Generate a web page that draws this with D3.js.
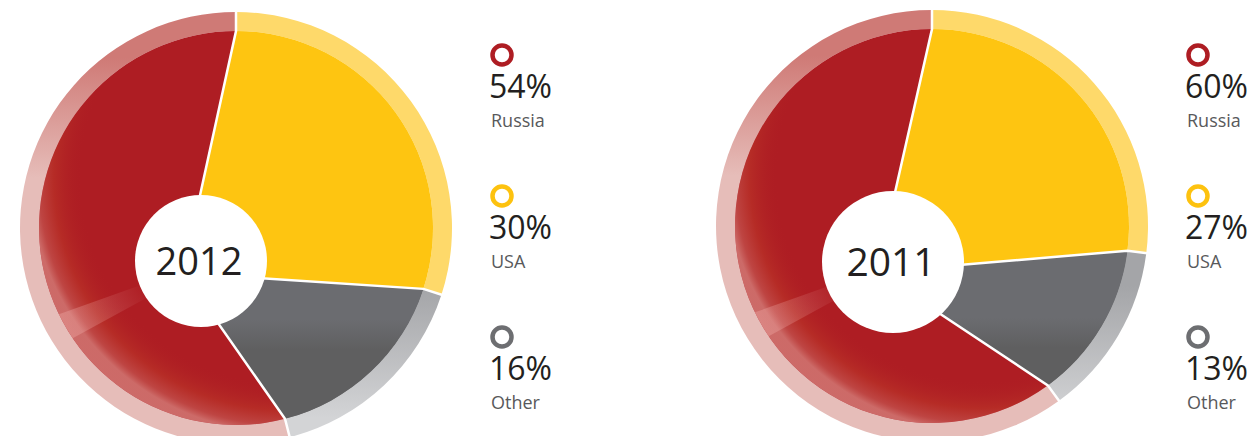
<!DOCTYPE html>
<html>
<head>
  <meta charset="utf-8" />
  <title>Russia / USA / Other share</title>
  <script src="https://d3js.org/d3.v7.min.js"></script>
  <style>
    body { margin: 0; background: #fff; }
    svg { display: block; }
    .year { font-family: "Open Sans", sans-serif; fill: #231f20; }
    .pct { font-family: "Open Sans", sans-serif; font-size: 32px; fill: #231f20; }
    .lbl { font-family: "Open Sans", sans-serif; font-size: 18px; fill: #58595b; }
  </style>
</head>
<body>
  <script>
    // - - - - - DATA - - - - - //
    var years = ["2012", "2011"];
    var countries = ["Russia", "USA", "Other"];
    var share2012 = [54, 30, 16];
    var share2011 = [60, 27, 13];

    // - - - - - LAYOUT - - - - - //
    var width = 1258, height = 436;
    var rPie = 197, rRing = 216;

    // pie centre, hole and the point the slice edges meet at (the pie is drawn a bit "tilted")
    var layout = [
      {cx: 236, cy: 228, hole: [-35, 33, 66], apex: [-53, 45], fs: 38},
      {cx: 932, cy: 226, hole: [-39, 36, 71], apex: [-55, 46], fs: 39}
    ];

    var fill = {Russia: "#ae1d23", USA: "#fec511", Other: "#6b6c70"};
    var ringFill = {Russia: "url(#ringRed)", USA: "#fed96a", Other: "url(#ringGray)"};
    var legendColor = {Russia: "#ae1d23", USA: "#fdc20f", Other: "#6d6e71"};

    var svg = d3.select("body").append("svg")
        .attr("width", width)
        .attr("height", height);

    // - - - - - GRADIENTS - - - - - //
    var defs = svg.append("defs");

    function linear(id, y1, y2, stops) {
      var g = defs.append("linearGradient").attr("id", id)
          .attr("gradientUnits", "userSpaceOnUse")
          .attr("x1", 0).attr("x2", 0).attr("y1", y1).attr("y2", y2);
      stops.forEach(function(s) {
        g.append("stop").attr("offset", s[0]).attr("stop-color", s[1]).attr("stop-opacity", s[2] == null ? 1 : s[2]);
      });
    }
    function radial(id, cx, cy, r, stops) {
      var g = defs.append("radialGradient").attr("id", id)
          .attr("gradientUnits", "userSpaceOnUse")
          .attr("cx", cx).attr("cy", cy).attr("r", r);
      stops.forEach(function(s) {
        g.append("stop").attr("offset", s[0]).attr("stop-color", s[1]).attr("stop-opacity", s[2]);
      });
    }

    linear("ringRed", -170, -50, [[0, "#cf7a76"], [1, "#e6bdb9"]]);
    linear("ringGray", 60, 190, [[0, "#a4a5a8"], [1, "#d3d4d6"]]);
    linear("grayShade", 92, 122, [[0, "#6b6c70"], [1, "#5f5f60"]]);
    radial("redShade", 50, -50, 255, [
      [0.80, "#ae1d23", 0],
      [0.91, "#bb3528", 0.6],
      [0.97, "#c55650", 0.7],
      [1, "#d27874", 0.85]
    ]);
    radial("stripe", 0, 0, rPie, [[0.55, "#eeaaa6", 0], [1, "#eeaaa6", 0.4]]);

    // - - - - - PIES - - - - - //
    var ring = d3.arc().innerRadius(rPie).outerRadius(rRing);

    function pt(a, r) { return [r * Math.sin(a), -r * Math.cos(a)]; }

    // slice drawn from the off-centre apex out to the pie circle
    function wedge(a0, a1, apex, r) {
      var p = d3.path(), s = pt(a0, r);
      p.moveTo(apex[0], apex[1]);
      p.lineTo(s[0], s[1]);
      p.arc(0, 0, r, a0 - Math.PI / 2, a1 - Math.PI / 2, false);
      p.closePath();
      return p.toString();
    }

    [share2012, share2011].forEach(function(values, i) {
      var L = layout[i];
      var total = d3.sum(values);
      var start = -values[0] / total * 2 * Math.PI;   // Russia ends at 12 o'clock
      var pie = d3.pie().sort(null).value(function(d) { return d; })
          .startAngle(start).endAngle(start + 2 * Math.PI);
      var arcs = pie(values);
      arcs.forEach(function(d, k) { d.name = countries[k]; });

      var g = svg.append("g").attr("transform", "translate(" + L.cx + "," + L.cy + ")");

      g.selectAll(".ring").data(arcs).enter().append("path")
          .attr("class", "ring")
          .attr("d", ring)
          .attr("fill", function(d) { return ringFill[d.name]; });

      g.selectAll(".slice").data(arcs).enter().append("path")
          .attr("class", "slice")
          .attr("d", function(d) { return wedge(d.startAngle, d.endAngle, L.apex, rPie); })
          .attr("fill", function(d) { return fill[d.name]; });

      var ru = arcs[0], ot = arcs[2];
      // 3d-ish shading
      g.append("path")
          .attr("d", wedge(ru.startAngle, ru.endAngle, L.apex, rPie))
          .attr("fill", "url(#redShade)");
      g.append("path")
          .attr("d", wedge(ot.startAngle, ot.endAngle, L.apex, rPie))
          .attr("fill", "url(#grayShade)");
      var hl0 = 236 / 180 * Math.PI, hl1 = 244 / 180 * Math.PI;
      g.append("path")
          .attr("d", wedge(hl0, hl1, [L.apex[0] + 42, L.apex[1] - 18], rPie))
          .attr("fill", "url(#stripe)");

      // white separators
      g.selectAll(".sep").data(arcs).enter().append("path")
          .attr("class", "sep")
          .attr("d", function(d) {
            return d3.line()([L.apex, pt(d.startAngle, rPie), pt(d.startAngle, rRing + 1)]);
          })
          .attr("fill", "none")
          .attr("stroke", "#fff")
          .attr("stroke-width", 2.5);

      // hole + year
      g.append("circle")
          .attr("cx", L.hole[0]).attr("cy", L.hole[1]).attr("r", L.hole[2])
          .attr("fill", "#fff");
      g.append("text")
          .attr("class", "year")
          .attr("x", L.hole[0] - 2)
          .attr("y", L.hole[1] + L.fs * 0.36)
          .attr("text-anchor", "middle")
          .style("font-size", L.fs + "px")
          .text(years[i]);

      // legend
      var lx = L.cx + 255;
      var y = d3.scalePoint().domain(countries).range([55, 337]);
      var lg = svg.append("g").selectAll("g").data(arcs).enter().append("g")
          .attr("transform", function(d) { return "translate(" + lx + "," + y(d.name) + ")"; });
      lg.append("circle")
          .attr("cx", 11).attr("cy", 0).attr("r", 9.5)
          .attr("fill", "none")
          .attr("stroke", function(d) { return legendColor[d.name]; })
          .attr("stroke-width", 4.5);
      lg.append("text")
          .attr("class", "pct")
          .attr("x", -2).attr("y", 43)
          .text(function(d) { return d.value + "%"; });
      lg.append("text")
          .attr("class", "lbl")
          .attr("x", 0).attr("y", 72)
          .text(function(d) { return d.name; });
    });
  </script>
</body>
</html>
